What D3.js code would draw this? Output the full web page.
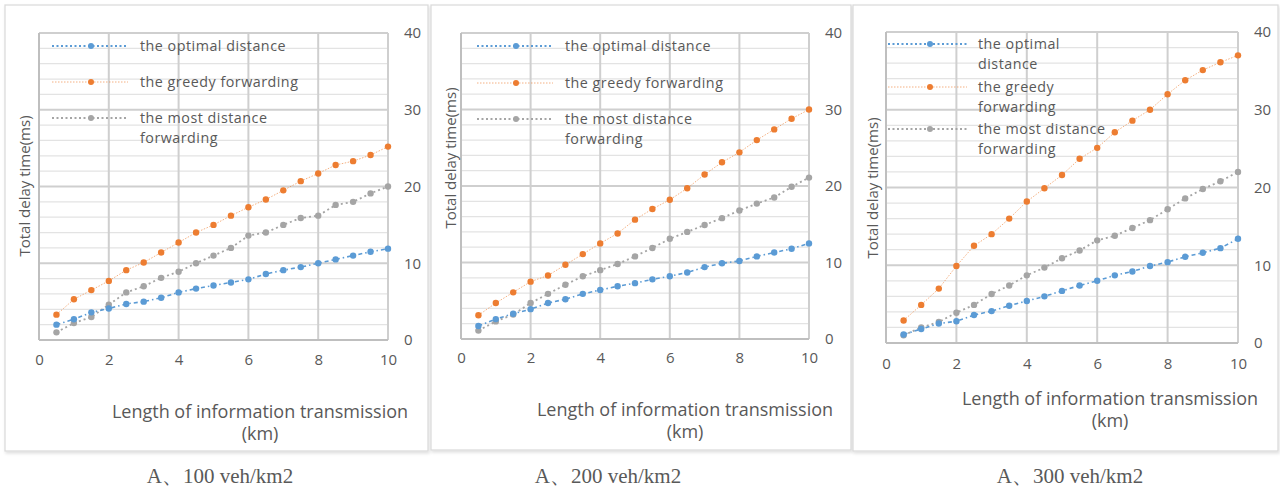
<!DOCTYPE html>
<html><head><meta charset="utf-8">
<script src="https://cdn.jsdelivr.net/npm/d3@7"></script>
<style>
body{margin:0;background:#fff;}
svg{display:block;}
text{font-family:"Open Sans","Noto Sans",sans-serif;fill:#595959;}
</style></head>
<body>
<svg id="c" width="1280" height="490"></svg>
<script>
// ---- data ----
const xValues = [0.5,1,1.5,2,2.5,3,3.5,4,4.5,5,5.5,6,6.5,7,7.5,8,8.5,9,9.5,10];
const xTicks = [0,2,4,6,8,10];
const yTicks = [0,10,20,30,40];
const seriesNames = ["the optimal distance","the greedy forwarding","the most distance forwarding"];
const captions = ["A、100 veh/km2","A、200 veh/km2","A、300 veh/km2"];

const optimal100 = [2.0,2.7,3.6,4.1,4.7,5.0,5.5,6.2,6.7,7.1,7.5,7.9,8.6,9.1,9.5,10.0,10.5,11.0,11.5,11.9];
const greedy100  = [3.3,5.3,6.5,7.7,9.1,10.1,11.4,12.7,14.0,15.0,16.2,17.3,18.3,19.5,20.7,21.7,22.8,23.3,24.1,25.2];
const most100    = [1.0,2.2,3.0,4.6,6.2,7.0,8.1,8.9,10.0,11.0,12.0,13.6,14.0,15.0,15.9,16.2,17.6,18.0,19.1,20.0];

const optimal200 = [1.7,2.6,3.3,3.9,4.7,5.2,5.9,6.4,6.9,7.3,7.8,8.2,8.7,9.4,9.9,10.2,10.8,11.3,11.8,12.5];
const greedy200  = [3.1,4.7,6.1,7.5,8.3,9.7,11.1,12.5,13.8,15.6,17.0,18.2,19.7,21.5,23.1,24.4,26.0,27.4,28.8,30.0];
const most200    = [1.1,2.3,3.2,4.7,5.9,7.1,8.2,9.0,9.8,10.8,11.9,13.1,14.0,14.9,15.8,16.8,17.7,18.5,19.9,21.1];

const optimal300 = [1.1,1.8,2.5,2.8,3.6,4.1,4.8,5.4,6.0,6.7,7.4,8.0,8.7,9.2,9.9,10.4,11.1,11.6,12.2,13.4];
const greedy300  = [2.9,4.9,7.0,9.9,12.5,14.0,16.0,18.2,19.9,21.6,23.7,25.1,27.1,28.6,30.0,32.0,33.8,35.1,36.1,37.0];
const most300    = [1.0,2.0,2.7,3.9,4.9,6.3,7.4,8.7,9.7,10.9,11.9,13.2,13.8,14.8,15.8,17.2,18.6,19.8,20.8,22.0];

// ---- layout ----
const panels = [
  {frame:[5,5,423,446], plot:{l:39,r:388,t:33,b:340}, series:[optimal100,greedy100,most100],
   legend:{x1:52,x2:128,mx:91,tx:140,ys:[46,82,118],lines:[["the optimal distance"],["the greedy forwarding"],["the most distance","forwarding"]]},
   ylab:{x:25,y:186}, xlab:{x:260,y:412}, xtickY:360, ytickX:404},
  {frame:[431,5,420,445], plot:{l:461,r:809,t:33,b:339}, series:[optimal200,greedy200,most200],
   legend:{x1:477,x2:553,mx:516,tx:565,ys:[46,83,119],lines:[["the optimal distance"],["the greedy forwarding"],["the most distance","forwarding"]]},
   ylab:{x:451,y:158}, xlab:{x:685,y:410}, xtickY:358, ytickX:825},
  {frame:[853,5,425,446], plot:{l:886,r:1238,t:32,b:343}, series:[optimal300,greedy300,most300],
   legend:{x1:888,x2:967,mx:930,tx:978,ys:[44,87,129],lines:[["the optimal","distance"],["the greedy","forwarding"],["the most distance","forwarding"]]},
   ylab:{x:873,y:188}, xlab:{x:1110,y:399}, xtickY:364, ytickX:1254}
];
const captionX = [220,608,1070];
const colors = ["#5b9bd5","#ed7d31","#a5a5a5"];
const lineDash = ["4,3,1.5,3","1.5,1.5","2,3"];
const lineW = [1.6,1,1.8];
const lineOp = [1,0.6,1];

const svg = d3.select("#c");
const defs = svg.append("defs");
const f = defs.append("filter").attr("id","sh").attr("x","-2%").attr("y","-2%").attr("width","104%").attr("height","104%");
f.append("feDropShadow").attr("dx",1).attr("dy",2).attr("stdDeviation",1.5).attr("flood-color","#000").attr("flood-opacity",0.12);

panels.forEach((p,pi)=>{
  const g = svg.append("g");
  g.append("rect").attr("x",p.frame[0]).attr("y",p.frame[1]).attr("width",p.frame[2]).attr("height",p.frame[3])
    .attr("fill","#fff").attr("stroke","#d9d9d9").attr("stroke-width",1.2).attr("filter","url(#sh)");
  const x = d3.scaleLinear().domain([0,10]).range([p.plot.l,p.plot.r]);
  const y = d3.scaleLinear().domain([0,40]).range([p.plot.b,p.plot.t]);
  // minor grid
  const minor = d3.range(0,41,2).filter(v=>v%10!==0);
  g.selectAll(".mn").data(minor).join("line").attr("x1",p.plot.l).attr("x2",p.plot.r)
    .attr("y1",d=>y(d)).attr("y2",d=>y(d)).attr("stroke","#e3e3e3").attr("stroke-width",1.2);
  // major grid
  g.selectAll(".mjh").data(yTicks.filter(v=>v>0)).join("line").attr("x1",p.plot.l).attr("x2",p.plot.r)
    .attr("y1",d=>y(d)).attr("y2",d=>y(d)).attr("stroke","#cfcfcf").attr("stroke-width",2);
  g.selectAll(".mjv").data(xTicks.filter(v=>v>0)).join("line").attr("y1",p.plot.t).attr("y2",p.plot.b)
    .attr("x1",d=>x(d)).attr("x2",d=>x(d)).attr("stroke","#cfcfcf").attr("stroke-width",2);
  // axes lines
  g.append("line").attr("x1",p.plot.l).attr("x2",p.plot.l).attr("y1",p.plot.t).attr("y2",p.plot.b).attr("stroke","#bfbfbf").attr("stroke-width",2);
  g.append("line").attr("x1",p.plot.l).attr("x2",p.plot.r).attr("y1",p.plot.b).attr("y2",p.plot.b).attr("stroke","#bfbfbf").attr("stroke-width",2);

  // tick labels via axes
  const xa = d3.axisBottom(x).tickValues(xTicks).tickSize(0).tickPadding(0);
  const xg = g.append("g").attr("transform",`translate(0,${p.xtickY})`).call(xa);
  xg.select(".domain").remove();
  xg.selectAll("text").attr("font-size",15).attr("dy","0.35em").attr("fill","#595959").style("font-family",'"Open Sans",sans-serif');
  const ya = d3.axisRight(y).tickValues(yTicks).tickSize(0).tickPadding(0);
  const yg = g.append("g").attr("transform",`translate(${p.ytickX},0)`).call(ya);
  yg.select(".domain").remove();
  yg.selectAll("text").attr("font-size",15).attr("text-anchor","start").attr("fill","#595959").style("font-family",'"Open Sans",sans-serif');

  // series
  const order = [2,0,1];
  order.forEach(si=>{
    const data = xValues.map((xv,i)=>[xv,p.series[si][i]]);
    g.append("path").datum(data).attr("fill","none").attr("stroke",colors[si]).attr("stroke-width",lineW[si])
      .attr("stroke-dasharray",lineDash[si]).attr("stroke-opacity",lineOp[si])
      .attr("d",d3.line().x(d=>x(d[0])).y(d=>y(d[1])));
    g.selectAll(null).data(data).join("circle").attr("cx",d=>x(d[0])).attr("cy",d=>y(d[1]))
      .attr("r",3.2).attr("fill",colors[si]);
  });

  // legend
  const L = p.legend;
  seriesNames.forEach((nm,si)=>{
    const yy = L.ys[si];
    g.append("line").attr("x1",L.x1).attr("x2",L.x2).attr("y1",yy).attr("y2",yy)
      .attr("stroke",colors[si]).attr("stroke-width",si===1?1:1.8).attr("stroke-opacity",si===1?0.6:1)
      .attr("stroke-dasharray",si===1?"1.5,1.5":"2,2.5");
    g.append("circle").attr("cx",L.mx).attr("cy",yy).attr("r",3).attr("fill",colors[si]);
    L.lines[si].forEach((ln,k)=>{
      g.append("text").attr("x",L.tx).attr("y",yy+k*19.5).attr("dy","0.35em")
        .attr("font-size",14.3).attr("letter-spacing","0.5px").text(ln);
    });
  });

  // axis titles
  g.append("text").attr("transform",`translate(${p.ylab.x},${p.ylab.y}) rotate(-90)`).attr("text-anchor","middle")
    .attr("dy","0.35em").attr("font-size",15).text("Total delay time(ms)");
  g.append("text").attr("x",p.xlab.x).attr("y",p.xlab.y).attr("text-anchor","middle").attr("dy","0.35em")
    .attr("font-size",18).text("Length of information transmission");
  g.append("text").attr("x",p.xlab.x).attr("y",p.xlab.y+22).attr("text-anchor","middle").attr("dy","0.35em")
    .attr("font-size",18).text("(km)");

  // caption
  svg.append("text").attr("x",captionX[pi]).attr("y",476).attr("text-anchor","middle").attr("dy","0.35em")
    .attr("font-size",21).style("font-family",'"Liberation Serif","Times New Roman",serif').attr("fill","#111")
    .text(captions[pi]);
});
</script>
</body></html>
